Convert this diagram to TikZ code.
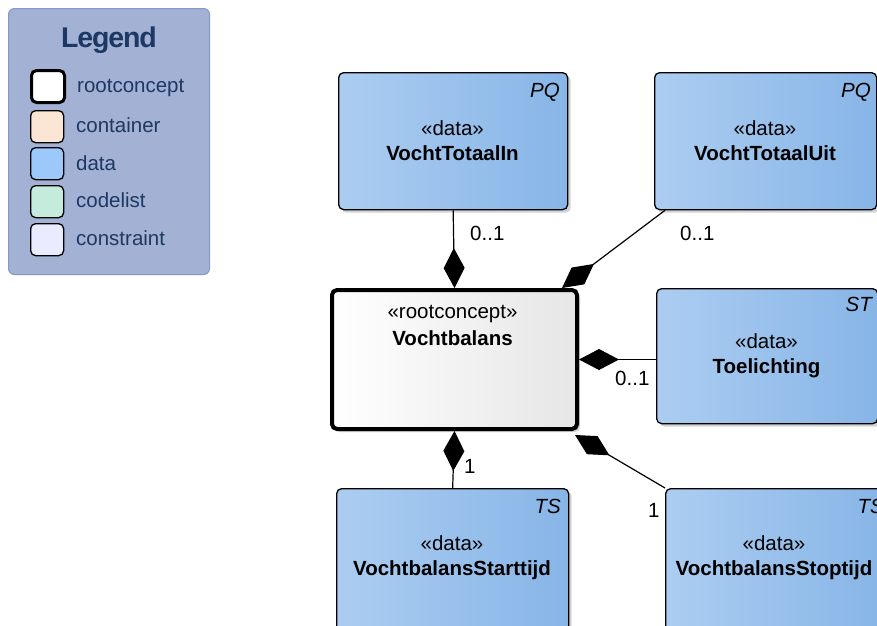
\documentclass[tikz,border=0pt]{standalone}
\usepackage{fontspec}
\setmainfont{Liberation Sans}
\usetikzlibrary{arrows.meta,shadows,calc}
\definecolor{legfill}{RGB}{162,177,212}
\definecolor{legdraw}{RGB}{133,153,198}
\definecolor{legtext}{RGB}{28,56,99}
\definecolor{dataL}{RGB}{172,205,241}
\definecolor{dataR}{RGB}{135,181,231}
\definecolor{rootR}{RGB}{230,230,230}
\definecolor{contC}{RGB}{251,229,213}
\definecolor{dataC}{RGB}{156,201,249}
\definecolor{codeC}{RGB}{197,235,220}
\definecolor{consC}{RGB}{235,235,255}
\tikzset{
  shad/.style={drop shadow={shadow xshift=3pt,shadow yshift=-3pt,fill=black!35,opacity=.5}},
  databox/.style={draw=black,line width=1.3pt,rounded corners=5pt,left color=dataL,right color=dataR,shad,anchor=north west,inner sep=0pt},
  rootbox/.style={draw=black,line width=4pt,rounded corners=5pt,left color=white,right color=rootR,shad,anchor=north west,inner sep=0pt},
  stereo/.style={anchor=base,inner sep=0pt,font=\fontsize{20.5}{24}\selectfont},
  cname/.style={anchor=base,inner sep=0pt,font=\fontsize{20.5}{24}\selectfont\bfseries},
  tag/.style={anchor=base east,inner sep=0pt,font=\fontsize{20.5}{24}\selectfont\itshape},
  mult/.style={anchor=base west,inner sep=0pt,font=\fontsize{20.5}{24}\selectfont},
  conn/.style={draw=black,line width=1.2pt,{Diamond[length=40pt,width=21pt]}-},
  swatch/.style={draw=black,line width=1.3pt,rounded corners=5pt,anchor=north west,inner sep=0pt,minimum width=33pt,minimum height=32pt},
  leglabel/.style={anchor=base west,inner sep=0pt,text=legtext,font=\fontsize{20.5}{24}\selectfont},
}
\begin{document}
\begin{tikzpicture}[x=1pt,y=-1pt]
\clip (0,0) rectangle (877,625);
\fill[white] (0,0) rectangle (877,625);
% Legend
\node[draw=legdraw,fill=legfill,line width=1pt,rounded corners=6pt,anchor=north west,inner sep=0pt,minimum width=201pt,minimum height=266pt] (leg) at (8,8) {};
\node[anchor=base,inner sep=0pt,text=legtext,font=\fontsize{28.5}{32}\selectfont\bfseries\addfontfeatures{LetterSpace=-4}] (legt) at (109,47) {Legend};
\node[swatch,fill=white,line width=3pt] (sw1) at (30,69) {};
\node[swatch,fill=contC] (sw2) at (30,110) {};
\node[swatch,fill=dataC] (sw3) at (30,147) {};
\node[swatch,fill=codeC] (sw4) at (30,185) {};
\node[swatch,fill=consC] (sw5) at (30,223) {};
\node[leglabel] (lg1) at (77,92) {rootconcept};
\node[leglabel] (lg2) at (76,132) {container};
\node[leglabel] (lg3) at (76,170) {data};
\node[leglabel] (lg4) at (76,207) {codelist};
\node[leglabel] (lg5) at (76,245) {constraint};
% Boxes
\node[databox,minimum width=229pt,minimum height=137pt] (vti) at (338,72) {};
\node[databox,minimum width=222pt,minimum height=137pt] (vtu) at (654,72) {};
\node[databox,minimum width=221pt,minimum height=135pt] (toe) at (656,288) {};
\node[rootbox,minimum width=245pt,minimum height=139pt] (vb) at (330,288) {};
\node[databox,minimum width=232pt,minimum height=150pt] (sta) at (336,488) {};
\node[databox,minimum width=218pt,minimum height=150pt] (sto) at (665,488) {};
% Texts
\node[stereo] (vti-s) at (452.5,135) {«data»};
\node[cname] (vti-n) at (452.5,160) {VochtTotaalIn};
\node[tag] (vti-t) at (560,97) {PQ};
\node[stereo] (vtu-s) at (765,135) {«data»};
\node[cname] (vtu-n) at (765,160) {VochtTotaalUit};
\node[tag] (vtu-t) at (871,97) {PQ};
\node[stereo] (toe-s) at (766.5,348) {«data»};
\node[cname] (toe-n) at (766.5,373) {Toelichting};
\node[tag] (toe-t) at (872,311) {ST};
\node[stereo] (vb-s) at (452.5,318) {«rootconcept»};
\node[cname] (vb-n) at (452.5,345) {Vochtbalans};
\node[stereo] (sta-s) at (452,550) {«data»};
\node[cname] (sta-n) at (452,575) {VochtbalansStarttijd};
\node[tag] (sta-t) at (561,513) {TS};
\node[stereo] (sto-s) at (774,550) {«data»};
\node[cname] (sto-n) at (774,575) {VochtbalansStoptijd};
\node[tag] (sto-t) at (884,513) {TS};
% Connectors
\coordinate (a2) at ($(vb.north east)+(-17,0)$);
\coordinate (b2) at ($(vtu.south west)+(11,0)$);
\coordinate (a5) at ($(vb.south east)+(-4,4)$);
\draw[conn] (vb.north) -- (vti.south);
\draw[conn] (a2) -- (b2);
\draw[conn] (vb.east) -- (vb.east -| toe.west);
\draw[conn] (vb.south) -- (sta.north);
\draw[conn] (a5) -- (sto.north west);
% Multiplicities
\node[mult] (m1) at (470,240) {0..1};
\node[mult] (m2) at (680,240) {0..1};
\node[mult] (m3) at (615,385) {0..1};
\node[mult] (m4) at (464,473) {1};
\node[mult] (m5) at (648,517) {1};
\end{tikzpicture}
\end{document}
